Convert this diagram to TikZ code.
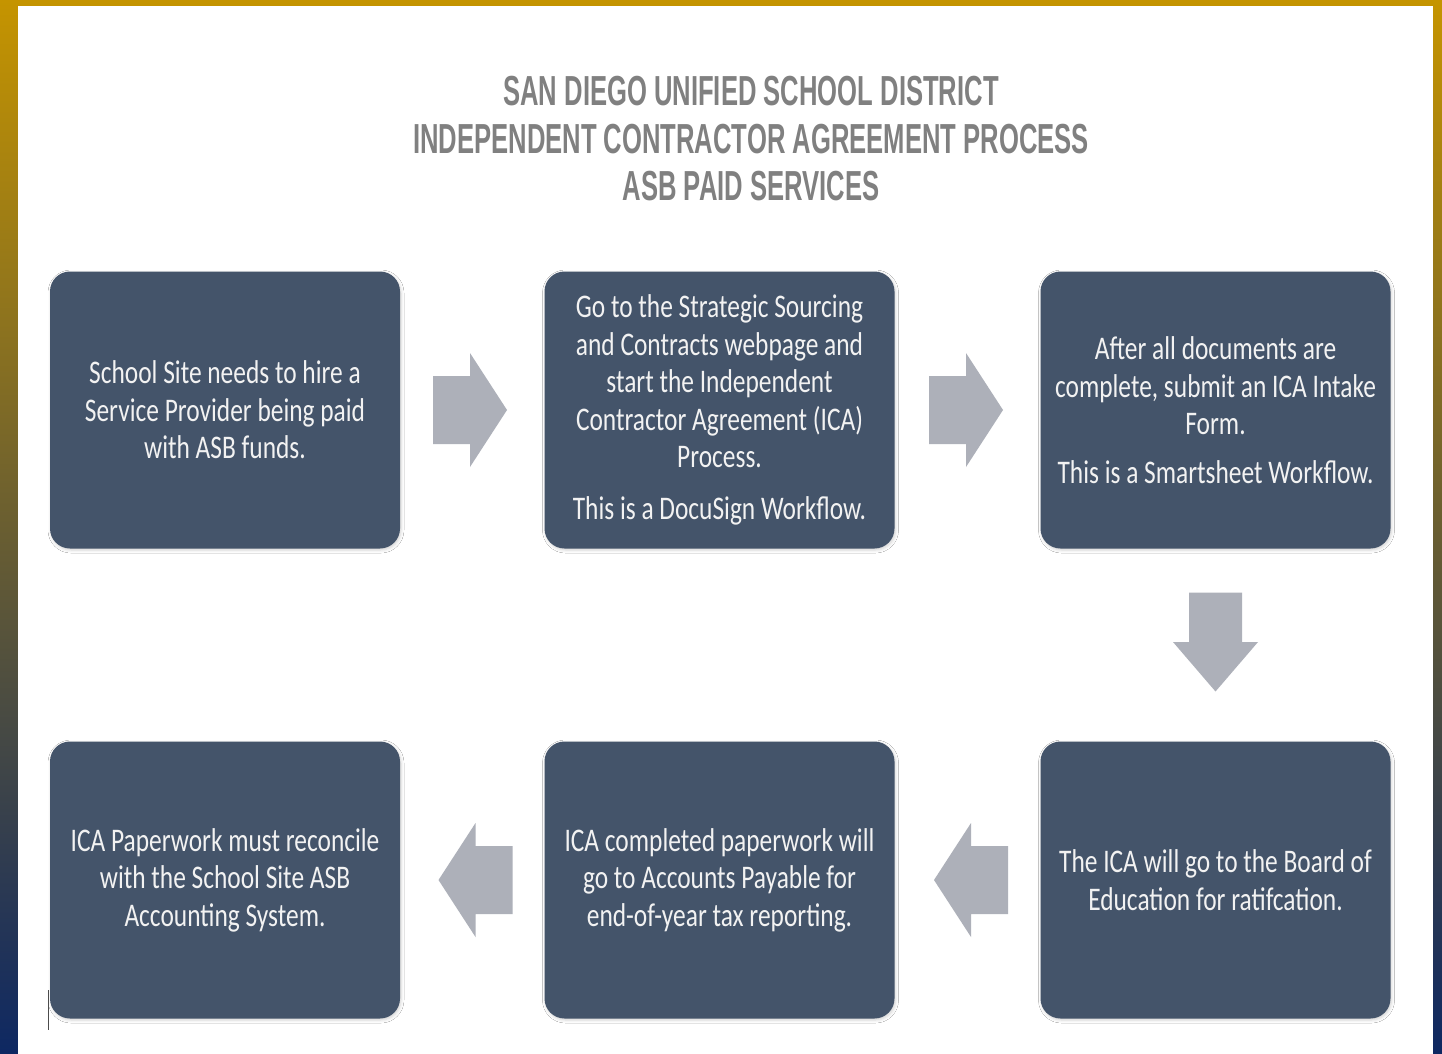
\documentclass[tikz,border=0pt]{standalone}
\usepackage{fontspec}
\setmainfont{Carlito}[FakeStretch=0.77]
\newfontfamily\titlefont{Liberation Sans}[FakeStretch=0.61]
\usetikzlibrary{shadows.blur}

\definecolor{framegold}{RGB}{197,148,0}
\definecolor{framenavy}{RGB}{14,40,98}
\definecolor{boxfill}{RGB}{68,84,106}
\definecolor{arrowgrey}{RGB}{173,176,185}
\definecolor{titlegrey}{RGB}{128,128,128}
\definecolor{boxtext}{RGB}{242,242,242}

\tikzset{
  stepbox/.style={
    fill=boxfill, rounded corners=20pt,
    minimum width=350pt, minimum height=277pt,
    inner sep=0pt, align=center, text=boxtext,
    font=\fontsize{33}{37.5}\selectfont,
    blur shadow={shadow xshift=1pt, shadow yshift=-1.5pt,
                 shadow blur radius=3pt, shadow opacity=18}},
  titletext/.style={align=center, text=titlegrey,
    font=\titlefont\bfseries\fontsize{42}{47.5}\selectfont},
  % horizontal block arrow, pointing right, centred on the origin
  pics/rightblock/.style={code={
    \fill[arrowgrey] (-37,-34) -- (0,-34) -- (0,-57) -- (37,0)
      -- (0,57) -- (0,34) -- (-37,34) -- cycle;}},
  % vertical block arrow, pointing down (y grows downwards)
  pics/downblock/.style={code={
    \fill[arrowgrey] (-26.5,-49.5) -- (26.5,-49.5) -- (26.5,0)
      -- (42.5,0) -- (0,49.5) -- (-42.5,0) -- (-26.5,0) -- cycle;}}
}

\begin{document}
\begin{tikzpicture}[x=1pt, y=-1pt]
  \useasboundingbox (0,0) rectangle (1442,1053);

  % gradient frame and white page
  \shade[top color=framegold, bottom color=framenavy] (0,0) rectangle (1442,1053);
  \fill[white] (18,6) rectangle (1433,1060);

  % heading
  \node[titletext] (heading) at (751,139)
    {SAN DIEGO UNIFIED SCHOOL DISTRICT\\
     INDEPENDENT CONTRACTOR AGREEMENT PROCESS\\
     ASB PAID SERVICES};

  % process steps, top row
  \node[stepbox] (school) at (225,410)
    {School Site needs to hire a\\Service Provider being paid\\with ASB funds.};
  \node[stepbox] (sourcing) at (719.5,410)
    {Go to the Strategic Sourcing\\and Contracts webpage and\\start the Independent\\Contractor Agreement (ICA)\\Process.\\[14pt]This is a DocuSign Workflow.};
  \node[stepbox] (intake) at (1215.5,410)
    {After all documents are\\complete, submit an ICA Intake\\Form.\\[11pt]This is a Smartsheet Workflow.};

  % process steps, bottom row
  \node[stepbox] (board) at (1215.5,880)
    {The ICA will go to the Board of\\Education for ratifcation.};
  \node[stepbox] (payable) at (719.5,880)
    {ICA completed paperwork will\\go to Accounts Payable for\\end-of-year tax reporting.};
  \node[stepbox] (reconcile) at (225,880)
    {ICA Paperwork must reconcile\\with the School Site ASB\\Accounting System.};

  % block arrows between the steps
  \pic at (470,410) {rightblock};
  \pic at (966,410) {rightblock};
  \pic at (1215.5,642) {downblock};
  \pic[xscale=-1] at (971,880) {rightblock};
  \pic[xscale=-1] at (475.5,880) {rightblock};

  % small mark at the lower left
  \draw[gray!60!black, line width=1.5pt] (48.5,990) -- (48.5,1030);
\end{tikzpicture}
\end{document}
